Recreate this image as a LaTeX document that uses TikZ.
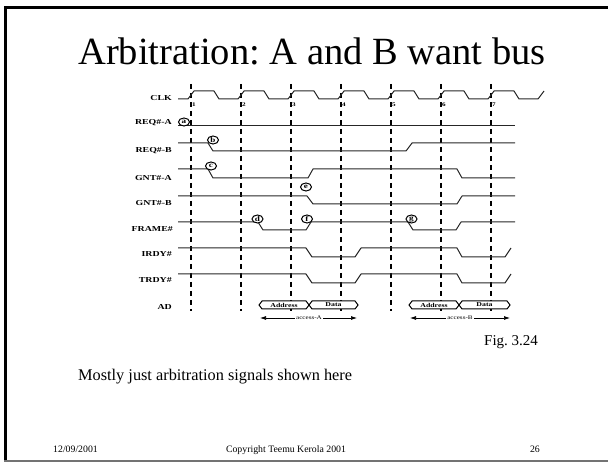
\documentclass[tikz,border=0pt]{standalone}
\usepackage{fontspec}
\setmainfont{Liberation Serif}
\newfontfamily\sigfont[FakeStretch=1.3]{Liberation Serif}
\usetikzlibrary{arrows.meta,shapes.geometric}
\frenchspacing

\begin{document}
\begin{tikzpicture}[x=1pt,y=-1pt,
  wave/.style={line width=1pt, black!85, line join=round},
  clkdash/.style={line width=1.8pt, dash pattern=on 5pt off 4pt},
  siglabel/.style={anchor=east, inner sep=0pt, font=\sigfont\bfseries\fontsize{7.6}{8}\selectfont},
  ticknum/.style={anchor=west, inner sep=0pt, font=\sigfont\bfseries\fontsize{5.5}{6}\selectfont},
  marker/.style={ellipse, draw, fill=white, line width=1pt, minimum width=11pt, minimum height=8pt, inner sep=0pt, font=\sigfont\bfseries\fontsize{7}{7}\selectfont},
  busbox/.style={line width=1pt, fill=white},
  boxtext/.style={inner sep=0pt, font=\sigfont\bfseries\fontsize{6}{6}\selectfont},
  span/.style={line width=0.7pt, {Latex[length=6pt,width=4pt]}-{Latex[length=6pt,width=4pt]}},
  spantext/.style={fill=white, inner sep=1pt, font=\sigfont\fontsize{5.5}{6}\selectfont},
]
\useasboundingbox (0,0) rectangle (608,462);

% slide frame
\draw[line width=3pt] (5.5,462) -- (5.5,7.5) -- (608,7.5);
\draw[line width=2pt, black!55] (4,461) -- (608,461);

% title, caption and footer
\node[anchor=base, inner sep=0pt, font=\fontsize{38.5}{40}\selectfont] (title) at (312,65) {Arbitration: A and B want bus};
\node[anchor=base west, inner sep=0pt, font=\fontsize{15}{17}\selectfont] (fig) at (484,346) {Fig. 3.24};
\node[anchor=base west, inner sep=0pt, font=\fontsize{16.3}{18}\selectfont] (note) at (78,381) {Mostly just arbitration signals shown here};
\node[anchor=base west, inner sep=0pt, font=\fontsize{9.8}{11}\selectfont] (date) at (53,452) {12/09/2001};
\node[anchor=base, inner sep=0pt, font=\fontsize{9.8}{11}\selectfont] (copy) at (286,452) {Copyright Teemu Kerola 2001};
\node[anchor=base east, inner sep=0pt, font=\fontsize{9.8}{11}\selectfont] (page) at (540,452) {26};

% clock edge markers
\foreach \k in {0,...,6} {
  \draw[clkdash] ({191+50*\k},84) -- ({191+50*\k},311);
}

% signal names
\node[siglabel] (lclk) at (172,98) {CLK};
\node[siglabel] (lreqa) at (172,123) {REQ\#-A};
\node[siglabel] (lreqb) at (172,151) {REQ\#-B};
\node[siglabel] (lgnta) at (172,178) {GNT\#-A};
\node[siglabel] (lgntb) at (172,203) {GNT\#-B};
\node[siglabel] (lframe) at (173,229) {FRAME\#};
\node[siglabel] (lirdy) at (172,254) {IRDY\#};
\node[siglabel] (ltrdy) at (172,280) {TRDY\#};
\node[siglabel] (lad) at (172,307) {AD};

% clock
\draw[wave] (178,99) foreach \k in {0,...,6} {
  -- ({188+50*\k},99) -- ({194+50*\k},91) -- ({214+50*\k},91) -- ({219+50*\k},99)
} -- (538,99) -- (544,91);
\foreach \k in {1,...,7} {
  \node[ticknum] (n\k) at ({142+50*\k},105) {\k};
}

% control signals
\draw[wave] (178,126) -- (515,126);
\draw[wave] (178,143) -- (208,143) -- (213,151) -- (406,151) -- (412,143) -- (515,143);
\draw[wave] (178,169) -- (208,169) -- (213,178) -- (308,178) -- (313,169) -- (457,169) -- (462,178) -- (515,178);
\draw[wave] (178,196) -- (307,196) -- (313,204) -- (457,204) -- (462,196) -- (515,196);
\draw[wave] (178,222) -- (258,222) -- (263,230) -- (306,230) -- (311,222) -- (408,222) -- (413,230) -- (456,230) -- (461,222) -- (515,222);
\draw[wave] (178,248) -- (306,248) -- (312,257) -- (355,257) -- (361,248) -- (457,248) -- (462,257) -- (505,257) -- (511,248);
\draw[wave] (178,274) -- (306,274) -- (312,283) -- (355,283) -- (361,274) -- (457,274) -- (462,283) -- (505,283) -- (511,274);

% event markers
\node[marker] (ma) at (184,122) {a};
\node[marker] (mb) at (213,140) {b};
\node[marker] (mc) at (211,166) {c};
\node[marker] (me) at (306,187) {e};
\node[marker] (md) at (257.5,219) {d};
\node[marker] (mf) at (307,219) {f};
\node[marker] (mg) at (411.5,219) {g};

% address / data phases on AD
\foreach \a/\b/\t/\n in {259/309/Address/aa, 309/358/Data/da, 409/459/Address/ab, 459/510/Data/db} {
  \draw[busbox] (\a,305) -- (\a+3,301) -- (\b-3,301) -- (\b,305) -- (\b-3,309) -- (\a+3,309) -- cycle;
  \node[boxtext] (\n) at ({(\a+\b)/2},305) {\t};
}

% access spans
\coordinate (sa1) at (260,318);
\coordinate (sa2) at (357,318);
\coordinate (sb1) at (410,318);
\coordinate (sb2) at (510,318);
\draw[span] (sa1) -- (sa2);
\draw[span] (sb1) -- (sb2);
\node[spantext] (acca) at (309,318) {access-A};
\node[spantext] (accb) at (460,318) {access-B};
\end{tikzpicture}
\end{document}
